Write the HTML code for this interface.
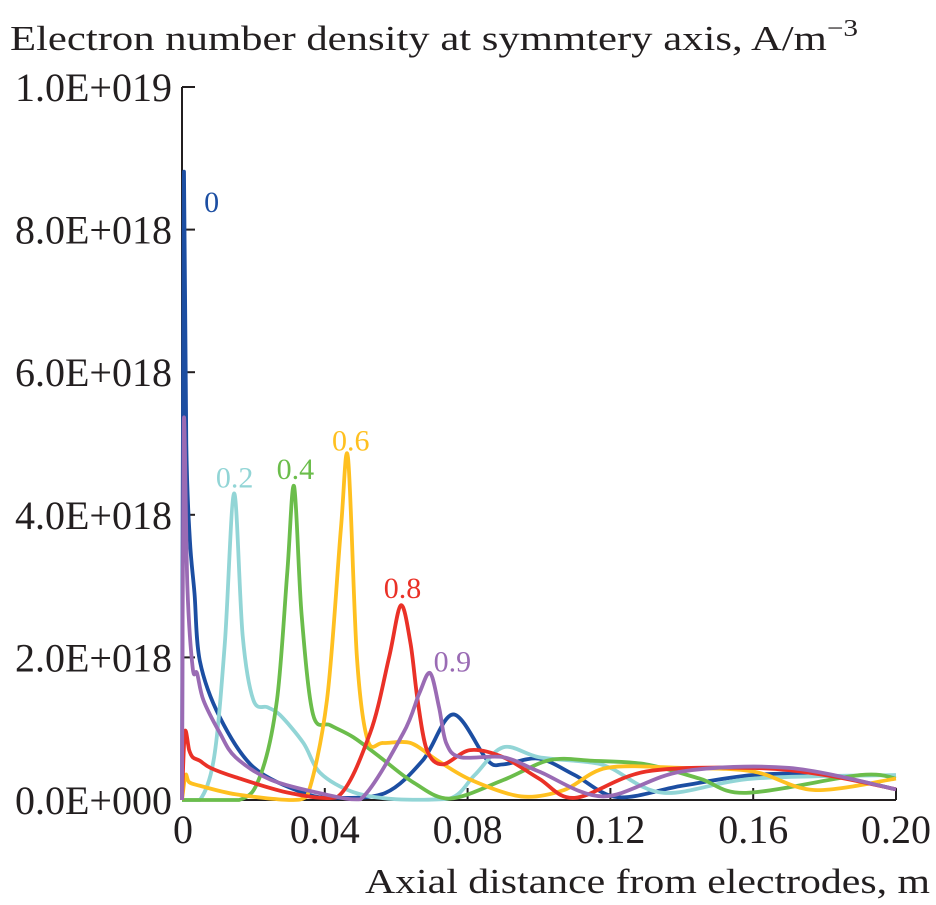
<!DOCTYPE html>
<html><head><meta charset="utf-8"><style>
html,body{margin:0;padding:0;background:#fff;}
svg{display:block;font-family:"Liberation Serif",serif;}
</style></head><body>
<svg id="chart" width="936" height="905" viewBox="0 0 936 905" xmlns="http://www.w3.org/2000/svg">
<text x="10" y="50" font-size="35" fill="#231f20" textLength="848" lengthAdjust="spacingAndGlyphs">Electron number density at symmtery axis, A/m<tspan font-size="24" dy="-14">−3</tspan></text>
<text x="930" y="893" font-size="35" fill="#231f20" text-anchor="end" textLength="565" lengthAdjust="spacingAndGlyphs">Axial distance from electrodes, m</text>
<g id="axes"></g>
<g id="series"></g>
<g id="labels"></g>
</svg>
<script>
const xTicks=[0,0.04,0.08,0.12,0.16,0.20];
const xTickLabels=["0","0.04","0.08","0.12","0.16","0.20"];
const yTicks=[0,2,4,6,8,10];
const yTickLabels=["0.0E+000","2.0E+018","4.0E+018","6.0E+018","8.0E+018","1.0E+019"];
const seriesNames=["0","0.2","0.4","0.6","0.8","0.9"];
const seriesColors=["#1c4ea2","#92d5d6","#6bbd4b","#ffc020","#ea3127","#9a6bb4"];
const s0x=[0,0.0005,0.0012,0.0022,0.0035,0.005,0.0106,0.02,0.034,0.043,0.057,0.0675,0.076,0.0855,0.09,0.1,0.11,0.122,0.14,0.16,0.18,0.2];
const s0y=[0,8.7,5.0,3.65,2.9,1.95,1.16,0.46,0.1,0.03,0.1,0.56,1.2,0.56,0.5,0.58,0.35,0.04,0.2,0.35,0.35,0.15];
const s1x=[0,0.005,0.009,0.012,0.0146,0.017,0.02,0.024,0.0275,0.034,0.0387,0.048,0.06,0.075,0.082,0.09,0.1,0.114,0.12,0.135,0.16,0.2];
const s1y=[0,0,0.6,2.2,4.3,2.3,1.4,1.3,1.19,0.8,0.38,0.11,0.01,0.02,0.35,0.74,0.6,0.53,0.45,0.1,0.3,0.35];
const s2x=[0,0.016,0.022,0.0266,0.0295,0.0314,0.0335,0.0367,0.0415,0.048,0.0555,0.065,0.075,0.09,0.103,0.115,0.13,0.145,0.158,0.19,0.2];
const s2y=[0,0,0.35,1.4,3.2,4.4,2.6,1.2,1.05,0.88,0.6,0.24,0.02,0.28,0.56,0.55,0.5,0.3,0.1,0.35,0.3];
const s3x=[0,0.001,0.002,0.005,0.015,0.03,0.035,0.0406,0.0445,0.0465,0.049,0.052,0.0563,0.064,0.0714,0.081,0.095,0.107,0.119,0.14,0.16,0.177,0.2];
const s3y=[0,0.35,0.25,0.2,0.08,0,0.05,1.4,3.8,4.8,2.0,0.84,0.8,0.8,0.56,0.28,0.05,0.14,0.45,0.45,0.4,0.14,0.3];
const s4x=[0,0.0008,0.002,0.003,0.005,0.008,0.015,0.03,0.0435,0.0527,0.058,0.0613,0.064,0.066,0.0686,0.073,0.0807,0.09,0.1,0.11,0.13,0.16,0.18,0.2];
const s4y=[0,0.95,0.7,0.6,0.55,0.45,0.32,0.1,0.04,0.94,2.0,2.73,2.2,1.4,0.7,0.5,0.7,0.6,0.3,0.03,0.4,0.45,0.35,0.15];
const s5x=[0,0.0005,0.0015,0.003,0.0042,0.006,0.0106,0.015,0.025,0.04,0.05,0.062,0.0665,0.0695,0.072,0.074,0.078,0.09,0.1,0.118,0.14,0.17,0.2];
const s5y=[0,5.3,3.0,1.85,1.78,1.4,0.94,0.6,0.28,0.08,0.01,0.94,1.5,1.78,1.3,0.8,0.6,0.6,0.4,0.05,0.4,0.45,0.15];
const labelX=[0.0062,0.0095,0.0265,0.042,0.0565,0.0705];
const labelY=[8.25,4.38,4.5,4.9,2.83,1.8];
const allX=[s0x,s1x,s2x,s3x,s4x,s5x];
const allY=[s0y,s1y,s2y,s3y,s4y,s5y];

const X0=182,X1=896,Y0=800,Y1=87;
const sx=v=>X0+(v-0)/(0.20)*(X1-X0);
const sy=v=>Y0-v/10*(Y0-Y1);
const NS="http://www.w3.org/2000/svg";
const axes=document.getElementById('axes');
function mk(tag,attrs,parent){const e=document.createElementNS(NS,tag);for(const k in attrs)e.setAttribute(k,attrs[k]);parent.appendChild(e);return e;}
let l=mk('line',{x1:X0,y1:Y1,x2:X0,y2:Y0,stroke:'#231f20','stroke-width':2},axes);


l=mk('line',{x1:X0,y1:Y0,x2:X1,y2:Y0,stroke:'#231f20','stroke-width':2},axes);


yTicks.forEach((v,i)=>{
  const t=mk('line',{x1:X0,y1:sy(v),x2:X0+13,y2:sy(v),stroke:'#231f20','stroke-width':2},axes);
  
  
  const tx=mk('text',{x:172,y:sy(v)+14,'font-size':40,'text-anchor':'end',fill:'#231f20'},axes);
  tx.textContent=yTickLabels[i];
  
  
});
xTicks.forEach((v,i)=>{
  const t=mk('line',{x1:sx(v),y1:Y0,x2:sx(v),y2:Y0-12,stroke:'#231f20','stroke-width':2},axes);
  
  
  const tx=mk('text',{x:i==0?sx(v)-9:sx(v),y:843,'font-size':40,'text-anchor':i==0?'start':'middle',fill:'#231f20'},axes);
  tx.textContent=xTickLabels[i];
  
  
});
function pathFor(xs,ys){
  const p=xs.map((x,i)=>[sx(x),sy(ys[i])]);
  let d='M'+p[0][0]+','+p[0][1];
  for(let i=0;i<p.length-1;i++){
    const a=p[i-1]||p[i],b=p[i],c=p[i+1],e=p[i+2]||c;
    const t=0.16;
    let c1y=b[1]+(c[1]-a[1])*t, c2y=c[1]-(e[1]-b[1])*t;
    c1y=Math.min(c1y,Y0);c2y=Math.min(c2y,Y0);
    d+=` C${b[0]+(c[0]-a[0])*t},${c1y} ${c[0]-(e[0]-b[0])*t},${c2y} ${c[0]},${c[1]}`;
  }
  return d;
}
const series=document.getElementById('series');
const labels=document.getElementById('labels');
allX.forEach((xs,i)=>{
  const p=mk('path',{d:pathFor(xs,allY[i]),fill:'none',stroke:seriesColors[i],'stroke-width':3.8,'stroke-linejoin':'round'},series);
  
  
  const t=mk('text',{x:sx(labelX[i]),y:sy(labelY[i]),'font-size':30,fill:seriesColors[i]},labels);
  t.textContent=seriesNames[i];
  
  
});
</script>
</body></html>
